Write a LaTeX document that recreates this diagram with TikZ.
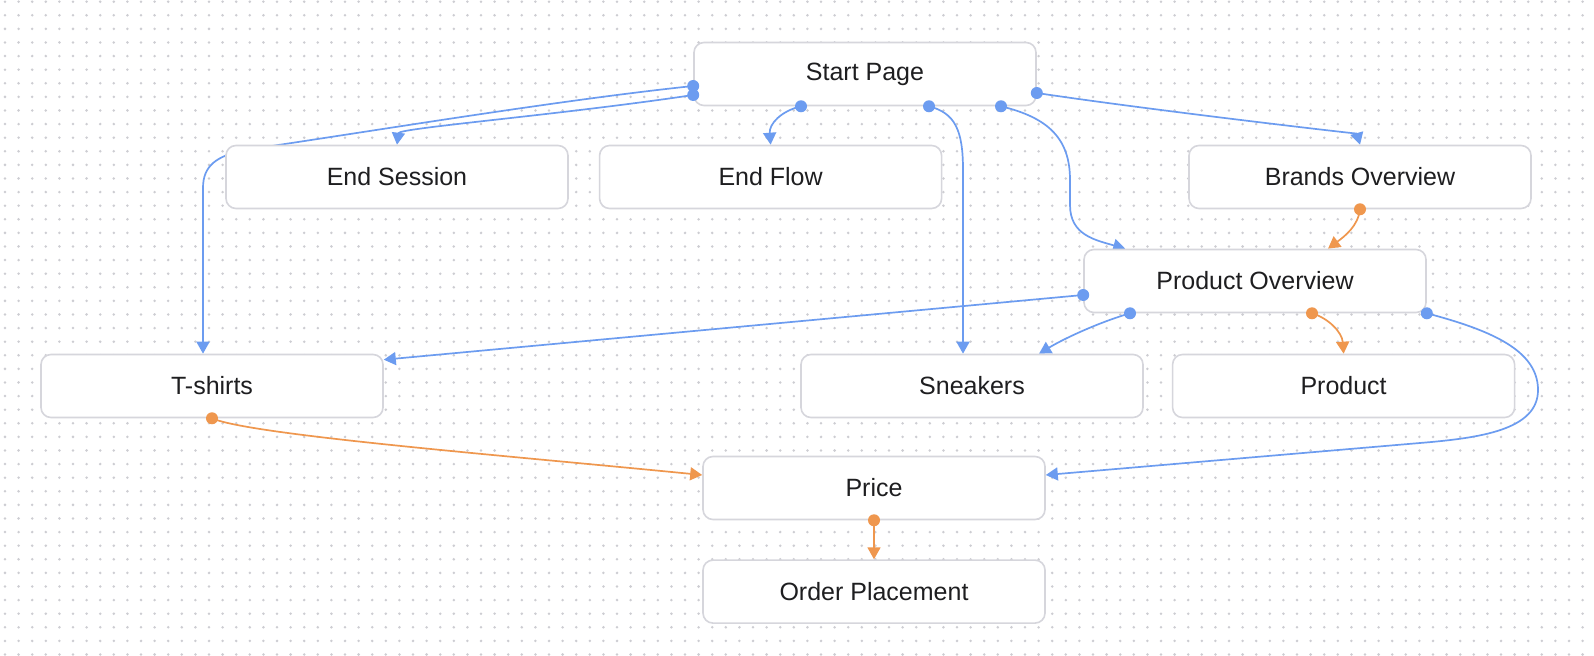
\documentclass[tikz,border=0pt]{standalone}
\usepackage{fontspec}
\setmainfont{Liberation Sans}
\usetikzlibrary{positioning,calc,arrows.meta}
\definecolor{flowblue}{RGB}{108,156,240}
\definecolor{floworange}{RGB}{239,151,78}
\definecolor{boxline}{RGB}{214,214,220}
\definecolor{griddot}{RGB}{205,205,210}
\definecolor{ink}{RGB}{30,30,32}
\pgfdeclarelayer{grid}
\pgfdeclarelayer{edges}
\pgfsetlayers{grid,edges,main}

\begin{document}
\begin{tikzpicture}[
  x=0.5pt, y=-0.5pt,
  box/.style={draw=boxline, fill=white, rounded corners=5pt, line width=0.8pt, minimum width=171pt, minimum height=31.5pt, font=\fontsize{12.5}{15}\selectfont, text=ink},
  link/.style={draw=flowblue, line width=0.85pt, -{Triangle[length=6pt,width=6.5pt]}},
  olink/.style={link, draw=floworange},
  node distance=15pt
]
\useasboundingbox (0,0) rectangle (1594,656);
\begin{pgfonlayer}{grid}
  \fill[white] (0,0) rectangle (1594,656);
  \foreach \i in {0,...,116}
    \foreach \j in {0,...,48}
      \fill[griddot] (5+13.6*\i, 1.7+13.6*\j) circle (0.7pt);
\end{pgfonlayer}

\node[box] (start) at (865,74) {Start Page};
\node[box] (endses) at (397,177) {End Session};
\node[box, right=of endses] (endflow) {End Flow};
\node[box] (brands) at (1360,177) {Brands Overview};
\node[box] (prodov) at (1255,281) {Product Overview};
\node[box] (tshirts) at (212,386) {T-shirts};
\node[box] (sneakers) at (972,386) {Sneakers};
\node[box, right=14pt of sneakers] (product) {Product};
\node[box] (price) at (874,488) {Price};
\node[box, below=19.5pt of price] (order) {Order Placement};

% ports
\coordinate (s1) at ($(start.west)+(0,12)$);
\coordinate (s2) at ($(start.west)+(0,21)$);
\coordinate (s3) at ($(start.south)+(-64,0)$);
\coordinate (s4) at ($(start.south)+(64,0)$);
\coordinate (s5) at ($(start.south)+(136,0)$);
\coordinate (s6) at ($(start.east)+(0,19)$);
\coordinate (b1) at (brands.south);
\coordinate (p1) at ($(prodov.west)+(0,14)$);
\coordinate (p2) at ($(prodov.south)+(-125,0)$);
\coordinate (p3) at ($(prodov.south)+(57,0)$);
\coordinate (p4) at (prodov.south east);
\coordinate (t1) at (tshirts.south);
\coordinate (r1) at (price.south);

\begin{pgfonlayer}{edges}
\draw[link] (s1) .. controls (560,100) and (380,130) .. (245,150) .. controls (216,156) and (203,166) .. (203,188) -- ($(tshirts.north)+(-9,0)$);
\draw[link] (s2) .. controls (560,115) and (399,128) .. (endses.north);
\draw[link] (s3) .. controls (781,111) and (769,124) .. (endflow.north);
\draw[link] (s4) .. controls (955,113) and (963,130) .. (963,170) -- ($(sneakers.north)+(-9,0)$);
\draw[link] (s5) .. controls (1050,118) and (1070,140) .. (1070,180) -- (1070,205) .. controls (1070,235) and (1095,240) .. ($(prodov.north west)+(42,0)$);
\draw[link] (s6) .. controls (1150,110) and (1357,134) .. (brands.north);
\draw[olink] (b1) .. controls (1358,226) and (1345,236) .. ($(prodov.north)+(73,0)$);
\draw[link] (p1) -- ($(tshirts.north east)+(0,6)$);
\draw[link] (p2) .. controls (1100,322) and (1065,338) .. ($(sneakers.north)+(67,0)$);
\draw[olink] (p3) .. controls (1328,318) and (1342,332) .. (product.north);
\draw[link] (p4) .. controls (1490,330) and (1538,350) .. (1538,390) .. controls (1538,430) and (1480,438) .. (1420,443) -- ($(price.east)+(0,-13)$);
\draw[olink] (t1) .. controls (250,435) and (500,455) .. ($(price.west)+(0,-13)$);
\draw[olink] (r1) -- (order.north);
\end{pgfonlayer}

\foreach \p in {s1,s2,s3,s4,s5,s6,p1,p2,p4}
  \fill[flowblue] (\p) circle (3pt);
\foreach \p in {b1,p3,t1,r1}
  \fill[floworange] (\p) circle (3pt);
\end{tikzpicture}
\end{document}
